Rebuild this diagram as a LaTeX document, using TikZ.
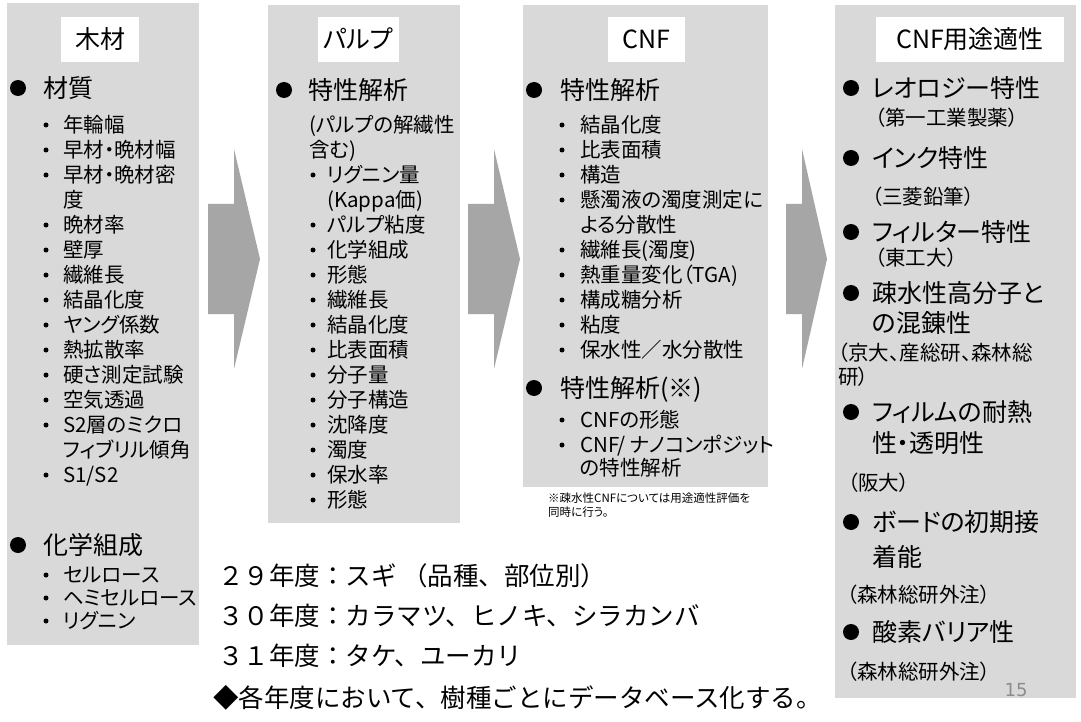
\documentclass[tikz,border=0pt]{standalone}
\usepackage{fontspec}
\setmainfont{Noto Sans CJK JP}[RawFeature=+palt]
\newfontfamily\jpw{Noto Sans CJK JP}
\newfontfamily\latf{DejaVu Sans}
\definecolor{boxgray}{HTML}{D9D9D9}
\definecolor{arrowgray}{HTML}{A6A6A6}
\definecolor{pagegray}{HTML}{8C8C8C}
\tikzset{
 panel/.style={fill=boxgray, draw=none, anchor=north west, inner sep=0pt},
 titlebox/.style={fill=white, draw=none, inner sep=0pt, font=\fontsize{25}{25}\selectfont, text height=22pt, text depth=3pt},
 hd/.style={anchor=west, inner sep=0pt, font=\fontsize{25}{25}\selectfont, text height=22pt, text depth=3pt},
 sb/.style={anchor=west, inner sep=0pt, font=\fontsize{20.5}{20.5}\selectfont, text height=18pt, text depth=2.5pt},
 yr/.style={anchor=west, inner sep=0pt, font=\jpw\fontsize{25.5}{25.5}\selectfont, text height=22.4pt, text depth=3.1pt},
 note/.style={anchor=west, inner sep=0pt, font=\fontsize{11.5}{11.5}\selectfont, text height=10.1pt, text depth=1.4pt},
 bigdot/.style={circle, fill=black, inner sep=0pt, minimum size=16pt},
 smalldot/.style={circle, fill=black, inner sep=0pt, minimum size=5pt},
 blockarrow/.style={fill=arrowgray, draw=none},
}
\newcommand\mkBig[5]{\node[bigdot] (#1d) at (#2,#4) {}; \node[hd] (#1) at (#3,#4) {#5};}
\newcommand\mkSub[5]{\node[smalldot] (#1d) at (#2,#4) {}; \node[sb] (#1) at (#3,#4) {#5};}
\newcommand\mkTxt[4]{\node[sb] (#1) at (#2,#3) {#4};}
\begin{document}
\begin{tikzpicture}[x=1pt,y=-1pt]
\useasboundingbox (0,0) rectangle (1081,722);
\fill[white] (0,0) rectangle (1081,722);
% panels
\node[panel, minimum width=192pt, minimum height=642pt] (p1) at (7,3) {};
\node[panel, minimum width=192pt, minimum height=518pt] (p2) at (268,5) {};
\node[panel, minimum width=245pt, minimum height=482pt] (p3) at (523,5) {};
\node[panel, minimum width=241pt, minimum height=693pt] (p4) at (835,5) {};
% block arrows
\fill[blockarrow] (208,204) -- (234,204) -- (234,149) -- (260,259) -- (234,369) -- (234,314) -- (208,314) -- cycle;
\fill[blockarrow] (468,204) -- (494,204) -- (494,149) -- (520,259) -- (494,369) -- (494,314) -- (468,314) -- cycle;
\fill[blockarrow] (786,204) -- (802,204) -- (802,149) -- (827,259) -- (802,369) -- (802,314) -- (786,314) -- cycle;
% titles
\node[titlebox, minimum width=78pt, minimum height=45pt] (t1) at (100,39.5) {木材};
\node[titlebox, minimum width=81pt, minimum height=45pt] (t2) at (358.5,39.5) {パルプ};
\node[titlebox, minimum width=77pt, minimum height=45pt] (t3) at (646.5,39.5) {CNF};
\node[titlebox, minimum width=188pt, minimum height=45pt] (t4) at (970,39.5) {CNF用途適性};
% box 1
\mkBig{a0}{18}{43}{88}{材質}
\mkSub{a1}{46}{63}{125}{年輪幅}
\mkSub{a2}{46}{63}{150}{早材・晩材幅}
\mkSub{a3}{46}{63}{175}{早材・晩材密}
\mkTxt{a3b}{63}{200}{度}
\mkSub{a4}{46}{63}{225}{晩材率}
\mkSub{a5}{46}{63}{250}{壁厚}
\mkSub{a6}{46}{63}{275}{繊維長}
\mkSub{a7}{46}{63}{300}{結晶化度}
\mkSub{a8}{46}{63}{325}{ヤング係数}
\mkSub{a9}{46}{63}{350}{熱拡散率}
\mkSub{a10}{46}{63}{375}{硬さ測定試験}
\mkSub{a11}{46}{63}{400}{空気透過}
\mkSub{a12}{46}{63}{425}{S2層のミクロ}
\mkTxt{a12b}{63}{450}{フィブリル傾角}
\mkSub{a13}{46}{63}{475}{S1/S2}
\mkBig{a20}{18}{43}{545}{化学組成}
\mkSub{a21}{46}{63}{575}{セルロース}
\mkSub{a22}{46}{63}{598}{ヘミセルロース}
\mkSub{a23}{46}{63}{621}{リグニン}
% box 2
\mkBig{b0}{284}{308}{90}{特性解析}
\mkTxt{b0a}{309}{125}{(パルプの解繊性}
\mkTxt{b0b}{309}{150}{含む)}
\mkSub{b1}{313}{327}{175}{リグニン量}
\mkTxt{b1b}{327}{200}{(Kappa価)}
\mkSub{b2}{313}{327}{225}{パルプ粘度}
\mkSub{b3}{313}{327}{250}{化学組成}
\mkSub{b4}{313}{327}{275}{形態}
\mkSub{b5}{313}{327}{300}{繊維長}
\mkSub{b6}{313}{327}{325}{結晶化度}
\mkSub{b7}{313}{327}{350}{比表面積}
\mkSub{b8}{313}{327}{375}{分子量}
\mkSub{b9}{313}{327}{400}{分子構造}
\mkSub{b10}{313}{327}{425}{沈降度}
\mkSub{b11}{313}{327}{450}{濁度}
\mkSub{b12}{313}{327}{475}{保水率}
\mkSub{b13}{313}{327}{500}{形態}
% box 3
\mkBig{c0}{534}{560}{90}{特性解析}
\mkSub{c1}{562}{580}{125}{結晶化度}
\mkSub{c2}{562}{580}{150}{比表面積}
\mkSub{c3}{562}{580}{175}{構造}
\mkSub{c4}{562}{580}{200}{懸濁液の濁度測定に}
\mkTxt{c4b}{580}{225}{よる分散性}
\mkSub{c5}{562}{580}{250}{繊維長(濁度)}
\mkSub{c6}{562}{580}{275}{熱重量変化（TGA)}
\mkSub{c7}{562}{580}{300}{構成糖分析}
\mkSub{c8}{562}{580}{325}{粘度}
\mkSub{c9}{562}{580}{350}{保水性／水分散性}
\mkBig{c10}{534}{560}{388}{特性解析(※)}
\mkSub{c11}{562}{580}{420}{CNFの形態}
\mkSub{c12}{562}{580}{445}{CNF/ ナノコンポジット}
\mkTxt{c12b}{580}{468}{の特性解析}
\node[note] (n1) at (548,498) {※疎水性CNFについては用途適性評価を};
\node[note] (n2) at (548,512) {同時に行う。};
% box 4
\mkBig{d0}{851}{872}{88}{レオロジー特性}
\mkTxt{d0b}{875}{118}{（第一工業製薬）}
\mkBig{d1}{851}{872}{158}{インク特性}
\mkTxt{d1b}{872}{197}{（三菱鉛筆）}
\mkBig{d2}{851}{872}{232}{フィルター特性}
\mkTxt{d2b}{875}{258}{（東工大）}
\mkBig{d3}{851}{872}{293}{疎水性高分子と}
\node[hd] (d3b) at (872,323) {の混錬性};
\mkTxt{d3c}{838}{353}{（京大、産総研、森林総}
\mkTxt{d3d}{838}{377}{研）}
\mkBig{d4}{851}{872}{412}{フィルムの耐熱}
\node[hd] (d4b) at (872,443) {性・透明性};
\mkTxt{d4c}{848}{483}{（阪大）}
\mkBig{d5}{851}{872}{522}{ボードの初期接}
\node[hd] (d5b) at (872,557) {着能};
\mkTxt{d5c}{847}{595}{（森林総研外注）}
\mkBig{d6}{851}{872}{632}{酸素バリア性}
\mkTxt{d6c}{847}{672}{（森林総研外注）}
\node[font=\latf\fontsize{18}{18}\selectfont, text=pagegray, inner sep=0pt] (pg) at (1016,690) {15};
% year lines
\node[yr] (y1) at (218,576) {２９年度：スギ （品種、部位別）};
\node[yr] (y2) at (218,616) {３０年度：カラマツ、ヒノキ、シラカンバ};
\node[yr] (y3) at (218,656) {３１年度：タケ、ユーカリ};
\node[yr] (y4) at (213,698) {◆各年度において、樹種ごとにデータベース化する。};
\end{tikzpicture}
\end{document}
